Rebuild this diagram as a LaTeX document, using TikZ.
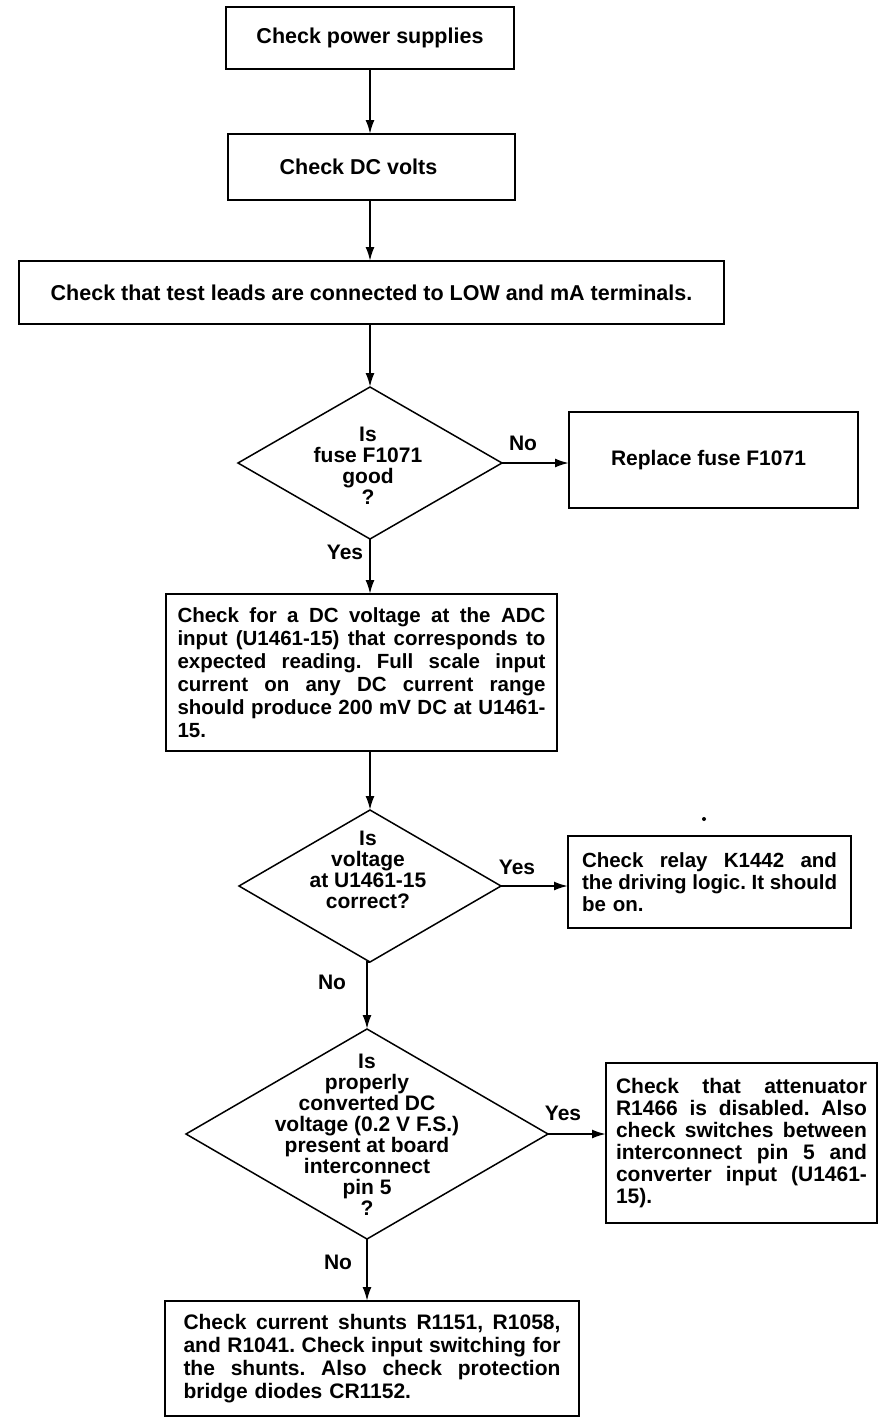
\documentclass[tikz,border=0pt]{standalone}
\usepackage{fontspec}
\setmainfont{Liberation Sans}
\usetikzlibrary{shapes.geometric,arrows.meta}
\newcommand{\jline}[2]{\leavevmode{\spaceskip=0.278em plus 3em minus 0.08em\relax\hbox to #1{#2}}}
\frenchspacing
\begin{document}
\begin{tikzpicture}[x=1pt,y=-1pt,
  box/.style={draw, line width=1.6pt, inner sep=0pt, outer sep=0pt, rectangle},
  dia/.style={draw, diamond, line width=1.5pt, inner sep=0pt, outer sep=0pt},
  fA/.style={font=\bfseries\fontsize{21.5}{22}\selectfont},
  fB/.style={font=\bfseries\fontsize{21}{21}\selectfont},
  fC/.style={font=\bfseries\fontsize{20.5}{23}\selectfont},
  fD/.style={font=\bfseries\fontsize{21}{22}\selectfont},
  txt/.style={inner sep=0pt, align=center},
  lbl/.style={fB, inner sep=0pt},
  arr/.style={line width=2pt, -{Latex[length=14pt,width=9pt]}},
]
\useasboundingbox (0,0) rectangle (879,1419);

% boxes
\node[box, fA, minimum width=288pt, minimum height=62pt] (b1) at (370,38) {Check power supplies};
\node[box, fA, minimum width=287pt, minimum height=66pt] (b2) at (371.5,167) {\hspace*{-26pt}Check DC volts};
\node[box, fA, minimum width=705pt, minimum height=63pt] (b3) at (371.5,292.5) {Check that test leads are connected to LOW and mA terminals.};

% diamond 1
\node[dia, minimum width=264pt, minimum height=152pt] (d1) at (370,463) {};
\node[txt, fB] (d1t) at (368,466) {Is\\fuse F1071\\good\\?};
\node[box, fB, minimum width=289pt, minimum height=96pt] (r1) at (713.5,460) {\hspace*{-10pt}Replace fuse F1071};

% box 4
\node[box, minimum width=391pt, minimum height=157pt, fC, text width=368pt, align=left] (b4) at (361.5,672.5)
 {\jline{368pt}{Check for a DC voltage at the ADC}\\
  \jline{368pt}{input (U1461-15) that corresponds to}\\
  \jline{368pt}{expected reading. Full scale input}\\
  \jline{368pt}{current on any DC current range}\\
  \jline{368pt}{should produce 200 mV DC at U1461-}\\
  15.};

% diamond 2
\node[dia, minimum width=262pt, minimum height=152pt] (d2) at (370,886) {};
\node[txt, fB] (d2t) at (368,870) {Is\\voltage\\at U1461-15\\correct?};
\node[box, minimum width=283pt, minimum height=92pt, font=\bfseries\fontsize{20.5}{22}\selectfont, text width=255pt, align=left] (r2) at (709.5,882)
 {\jline{255pt}{Check relay K1442 and}\\
  \jline{255pt}{the driving logic. It should}\\
  be on.};
\node[circle, fill, inner sep=0pt, minimum size=4pt] (speck) at (704,819) {};

% diamond 3
\node[dia, minimum width=362pt, minimum height=210pt] (d3) at (367,1134) {};
\node[txt, fB] (d3t) at (367,1135) {Is\\properly\\converted DC\\voltage (0.2 V F.S.)\\present at board\\interconnect\\pin 5\\?};
\node[box, minimum width=271pt, minimum height=160pt, fD, text width=251pt, align=left] (r3) at (741.5,1143)
 {\jline{251pt}{Check that attenuator}\\
  \jline{251pt}{R1466 is disabled. Also}\\
  \jline{251pt}{check switches between}\\
  \jline{251pt}{interconnect pin 5 and}\\
  \jline{251pt}{converter input (U1461-}\\
  15).};

% box 6
\node[box, minimum width=414pt, minimum height=115pt, font=\bfseries\fontsize{21}{23}\selectfont, text width=377pt, align=left] (b6) at (372,1358.5)
 {\jline{377pt}{Check current shunts R1151, R1058,}\\
  \jline{377pt}{and R1041. Check input switching for}\\
  \jline{377pt}{the shunts. Also check protection}\\
  bridge diodes CR1152.};

% connectors
\draw[arr] (b1.south) -- (b2.north -| b1.south);
\draw[arr] (b2.south -| b1.south) -- (b3.north -| b1.south);
\draw[arr] (b3.south -| d1.north) -- (d1.north);
\draw[arr] (d1.east) -- (d1.east -| r1.west);
\draw[arr] (d1.south) -- (d1.south |- b4.north);
\draw[arr] (b4.south -| d2.north) -- (d2.north);
\draw[arr] (d2.east) -- (d2.east -| r2.west);
\draw[arr] (d2.south) -- (d2.south -| d3.north) -- (d3.north);
\draw[arr] (d3.east) -- (d3.east -| r3.west);
\draw[arr] (d3.south) -- (d3.south |- b6.north);

% labels
\node[lbl] (l1) at (523,443) {No};
\node[lbl] (l2) at (345,552) {Yes};
\node[lbl] (l3) at (517,867) {Yes};
\node[lbl] (l4) at (332,982) {No};
\node[lbl] (l5) at (563,1113) {Yes};
\node[lbl] (l6) at (338,1262) {No};
\end{tikzpicture}
\end{document}
